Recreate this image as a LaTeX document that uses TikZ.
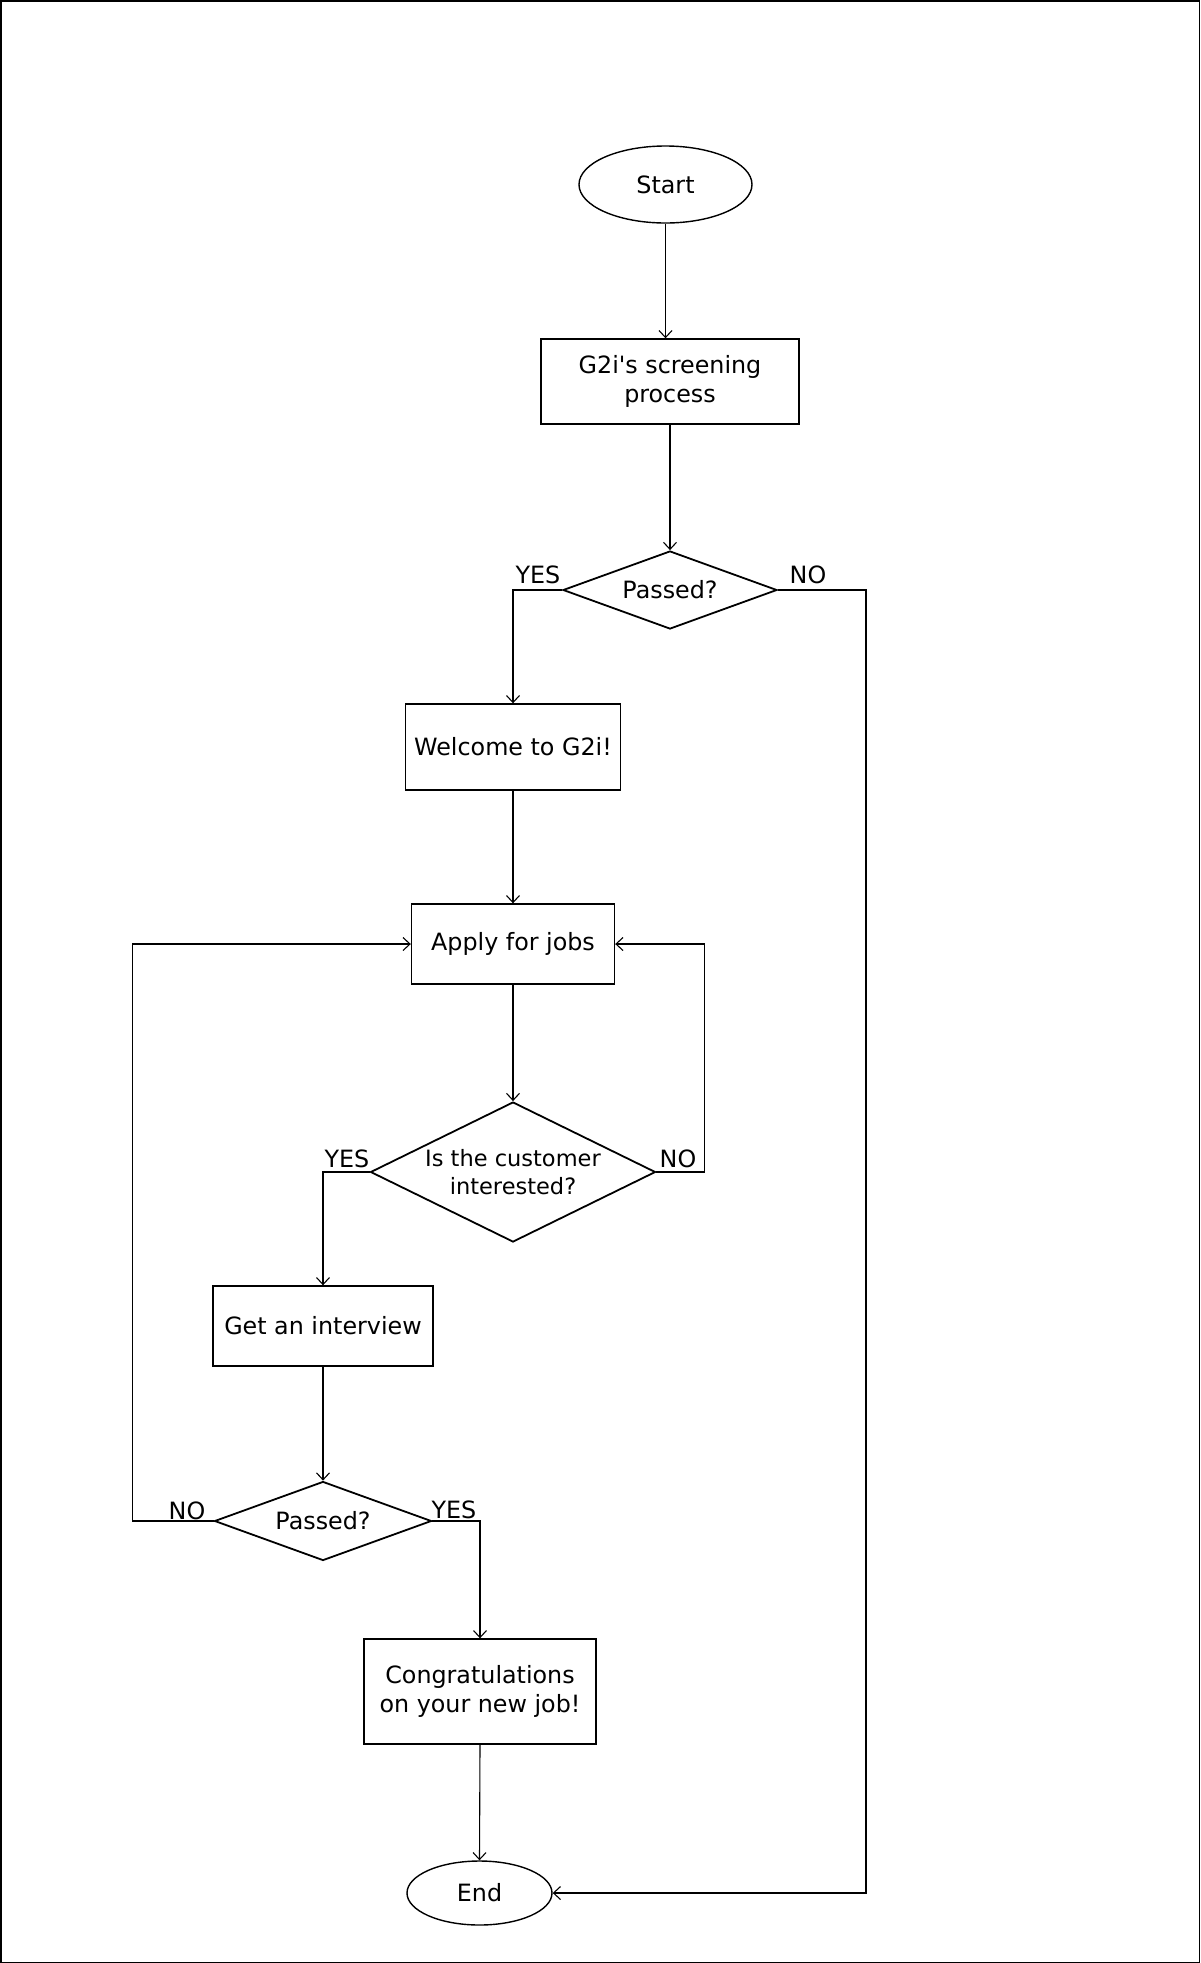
\documentclass[tikz,border=0pt]{standalone}
\usepackage{fontspec}
\setmainfont{DejaVu Sans}[Ligatures=TeXOff]
\usetikzlibrary{shapes.geometric,arrows.meta,calc}
\begin{document}
\begin{tikzpicture}[x=1pt,y=-1pt,
  txt/.style={font=\fontsize{23.8}{29}\selectfont, align=center},
  boxnode/.style={draw, rectangle, line width=1.4pt, inner sep=0pt, txt},
  ovalnode/.style={draw, ellipse, line width=1.4pt, inner sep=0pt, txt},
  dianode/.style={draw, diamond, line width=1.8pt, inner sep=0pt},
  lbl/.style={txt, inner sep=0pt},
  arr/.style={draw, line width=1.1pt, -{Straight Barb[length=7pt,width=13pt]}},
  conn/.style={draw, line width=1.1pt}
]
\useasboundingbox (0,0) rectangle (1200,1963);
\draw[line width=1.5pt] (0.75,0.75) rectangle (1199.25,1962.25);

% nodes
\node[ovalnode, minimum width=173pt, minimum height=77pt] (start) at (665.5,184.5) {Start};
\node[boxnode, minimum width=258pt, minimum height=85pt] (screen) at (670,381.5) {G2i\symbol{"27}s screening\\ process};
\node[dianode, minimum width=214pt, minimum height=78pt,
      label={[lbl]center:Passed?}] (d1) at (670,590) {};
\node[boxnode, minimum width=215pt, minimum height=86pt] (welcome) at (513,747) {Welcome to G2i!};
\node[boxnode, minimum width=203pt, minimum height=80pt] (apply) at (513,944) {Apply for jobs};
\node[dianode, minimum width=285pt, minimum height=140pt,
      label={[lbl, font=\fontsize{22.5}{28}\selectfont]center:Is the customer\\ interested?}] (d2) at (513,1172) {};
\node[boxnode, minimum width=220pt, minimum height=80pt] (interview) at (323,1326) {Get an interview};
\node[dianode, minimum width=217pt, minimum height=79pt,
      label={[lbl]center:Passed?}] (d3) at (323,1521) {};
\node[boxnode, minimum width=232pt, minimum height=105pt] (congrats) at (480,1691.5) {Congratulations\\ on your new job!};
\node[ovalnode, minimum width=145pt, minimum height=64pt] (end) at (479.5,1893) {End};

% branch labels
\node[lbl] (y1) at (538,575) {YES};
\node[lbl] (n1) at (808,575) {NO};
\node[lbl] (y2) at (347,1159) {YES};
\node[lbl] (n2) at (678,1159) {NO};
\node[lbl] (n3) at (187,1511) {NO};
\node[lbl] (y3) at (454,1510) {YES};

% helper coordinates
\coordinate (rightx) at (866,0);
\coordinate (loopx) at (704.5,0);
\coordinate (leftx) at (132.3,0);

% connectors
\draw[arr] (start.south) -- (start.south |- screen.north);
\draw[arr] (screen.south) -- (d1.north);
\draw[arr] (d1.west) -| (welcome.north);
\draw[arr] (d1.east) -| (rightx |- end.east) -- (end.east);
\draw[arr] (welcome.south) -- (apply.north);
\draw[arr] (apply.south) -- (d2.north);
\draw[arr] (d2.west) -| (interview.north);
\draw[arr] (d2.east) -| (loopx |- apply.east) -- (apply.east);
\draw[arr] (interview.south) -- (d3.north);
\draw[arr] (d3.west) -| (leftx |- apply.west) -- (apply.west);
\draw[arr] (d3.east) -| (congrats.north);
\draw[arr] (congrats.south) -- (end.north);
\end{tikzpicture}
\end{document}
